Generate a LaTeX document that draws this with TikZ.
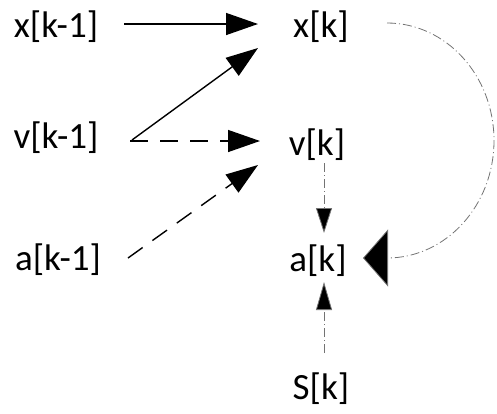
\documentclass[tikz,border=0pt]{standalone}
\usepackage{fontspec}
\setmainfont{Carlito}
\usetikzlibrary{arrows.meta,calc}
\begin{document}
\begin{tikzpicture}[x=1pt,y=-1pt,
  lbl/.style={inner sep=0pt,font=\fontsize{37}{40}\selectfont},
  solidlink/.style={line width=1.4pt,-{Triangle[length=32pt,width=22pt]}},
  dashlink/.style={line width=1.4pt,dash pattern=on 18pt off 12pt,-{Triangle[length=32pt,width=22pt]}},
  thinlink/.style={line width=0.8pt,draw=black!55,dash pattern=on 9pt off 3pt on 1pt off 3pt}]
\useasboundingbox (0,0) rectangle (497,413);
% state nodes
\node[lbl] (xk1) at (56,27) {x[k-1]};
\node[lbl] (vk1) at (56,138) {v[k-1]};
\node[lbl] (ak1) at (58,260) {a[k-1]};
\node[lbl] (xk) at (321,27) {x[k]};
\node[lbl] (vk) at (317,145) {v[k]};
\node[lbl] (ak) at (318,261) {a[k]};
\node[lbl] (sk) at (321,389) {S[k]};
% transitions from step k-1 to step k
\draw[solidlink] ($(xk1)+(68,-3)$) -- ($(xk)+(-63,-3)$);
\draw[solidlink] ($(vk1)+(76,2)$) -- ($(xk)+(-63,21)$);
\draw[dashlink] ($(vk1)+(74,3)$) -- ($(vk)+(-57,-4)$);
\draw[dashlink] ($(ak1)+(70,-2)$) -- ($(vk)+(-59,20)$);
% inputs to a[k]
\draw[thinlink,-{Triangle[length=25pt,width=16pt,fill=black]}] ($(vk)+(7,18)$) -- ($(ak)+(6,-28)$);
\draw[thinlink,-{Triangle[length=28pt,width=16pt,fill=black]}] ($(sk)+(3,-36)$) -- ($(ak)+(6,21)$);
\draw[thinlink,-{Triangle[length=25pt,width=57pt,fill=black]}] ($(xk)+(66,-4)$)
  arc[start angle=-90,end angle=90,x radius=107,y radius=117.5] -- ($(ak)+(45,-3)$);
\end{tikzpicture}
\end{document}
